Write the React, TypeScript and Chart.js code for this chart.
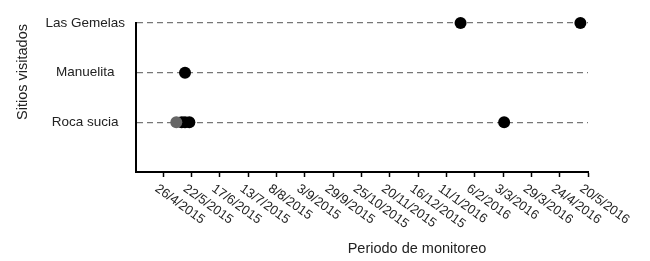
import React, { useEffect, useRef } from "react";
import { Chart, registerables } from "chart.js";

Chart.register(...registerables);

const sites = ["Roca sucia", "Manuelita", "Las Gemelas"];
const tickLabels = [
  "26/4/2015", "22/5/2015", "17/6/2015", "13/7/2015", "8/8/2015", "3/9/2015",
  "29/9/2015", "25/10/2015", "20/11/2015", "16/12/2015", "11/1/2016", "6/2/2016",
  "3/3/2016", "29/3/2016", "24/4/2016", "20/5/2016",
];
const axisStart = "1/4/2015";
const axisEnd = "20/5/2016";
const rocaSuciaGrayDates = ["8/5/2015"];
const rocaSuciaDates = ["13/5/2015", "16/5/2015", "20/5/2015", "4/3/2016"];
const manuelitaDates = ["16/5/2015"];
const lasGemelasDates = ["24/1/2016", "13/5/2016"];
const yTitle = "Sitios visitados";
const xTitle = "Periodo de monitoreo";

const toDay = (s: string) => {
  const [d, m, y] = s.split("/").map(Number);
  return Date.UTC(y, m - 1, d) / 86400000;
};
const pts = (dates: string[], site: string) =>
  dates.map((d) => ({ x: toDay(d), y: sites.indexOf(site) + 1 }));

const FONT = "'Liberation Sans', Arial, sans-serif";

export default function App() {
  const ref = useRef<HTMLCanvasElement | null>(null);
  useEffect(() => {
    if (!ref.current) return;
    const textPlugin = {
      id: "customText",
      afterDraw(chart: any) {
        const ctx = chart.ctx;
        const xs = chart.scales.x;
        ctx.save();
        ctx.fillStyle = "#222";
        ctx.font = `13px ${FONT}`;
        ctx.textAlign = "left";
        ctx.textBaseline = "top";
        tickLabels.forEach((t) => {
          const px = xs.getPixelForValue(toDay(t));
          ctx.save();
          ctx.translate(px - 3, 182);
          ctx.rotate((36 * Math.PI) / 180);
          ctx.fillText(t, 0, 0);
          ctx.restore();
        });
        ctx.font = `14.5px ${FONT}`;
        ctx.textAlign = "center";
        ctx.textBaseline = "alphabetic";
        ctx.fillText(xTitle, 417, 253);
        ctx.save();
        ctx.translate(27, 72);
        ctx.rotate(-Math.PI / 2);
        ctx.fillText(yTitle, 0, 0);
        ctx.restore();
        ctx.restore();
      },
    };
    const point = (color: string) => ({
      backgroundColor: color,
      borderColor: color,
      pointRadius: 6,
      pointHoverRadius: 6,
      borderWidth: 0,
      clip: false as any,
    });
    const chart = new Chart(ref.current, {
      type: "scatter",
      data: {
        datasets: [
          { label: "Roca sucia (2)", data: pts(rocaSuciaGrayDates, "Roca sucia"), ...point("#666") },
          { label: "Roca sucia", data: pts(rocaSuciaDates, "Roca sucia"), ...point("#000") },
          { label: "Manuelita", data: pts(manuelitaDates, "Manuelita"), ...point("#000") },
          { label: "Las Gemelas", data: pts(lasGemelasDates, "Las Gemelas"), ...point("#000") },
        ],
      },
      options: {
        animation: false,
        responsive: true,
        maintainAspectRatio: false,
        layout: { padding: { left: 0, top: 23, right: 62, bottom: 0 } },
        plugins: { legend: { display: false }, tooltip: { enabled: false } },
        scales: {
          x: {
            type: "linear",
            min: toDay(axisStart),
            max: toDay(axisEnd),
            afterBuildTicks: (scale: any) => {
              scale.ticks = tickLabels.map((t) => ({ value: toDay(t) }));
            },
            afterFit: (scale: any) => {
              scale.height = 89;
            },
            ticks: { display: false },
            grid: {
              display: true,
              drawOnChartArea: false,
              drawTicks: true,
              tickLength: 5,
              tickColor: "#000",
              tickWidth: 1.5,
            },
            border: { display: true, color: "#000", width: 2 },
          },
          y: {
            type: "linear",
            min: 0,
            max: 3,
            afterBuildTicks: (scale: any) => {
              scale.ticks = [0, 1, 2, 3].map((v) => ({ value: v }));
            },
            afterFit: (scale: any) => {
              scale.width = 136;
            },
            ticks: {
              callback: (v: any) => (v >= 1 ? sites[v - 1] : ""),
              crossAlign: "center",
              padding: 11,
              color: "#222",
              font: { family: FONT, size: 13.5 },
            },
            grid: {
              drawTicks: false,
              color: (c: any) => (c.tick && c.tick.value === 0 ? "rgba(0,0,0,0)" : "#777"),
              lineWidth: 1.2,
            },
            border: { display: true, color: "#000", width: 2, dash: [6, 4] },
          },
        },
      },
      plugins: [textPlugin],
    } as any);
    return () => chart.destroy();
  }, []);
  return (
    <div style={{ position: "absolute", left: 0, top: 0, width: 650, height: 261, background: "#fff" }}>
      <canvas ref={ref} />
    </div>
  );
}
